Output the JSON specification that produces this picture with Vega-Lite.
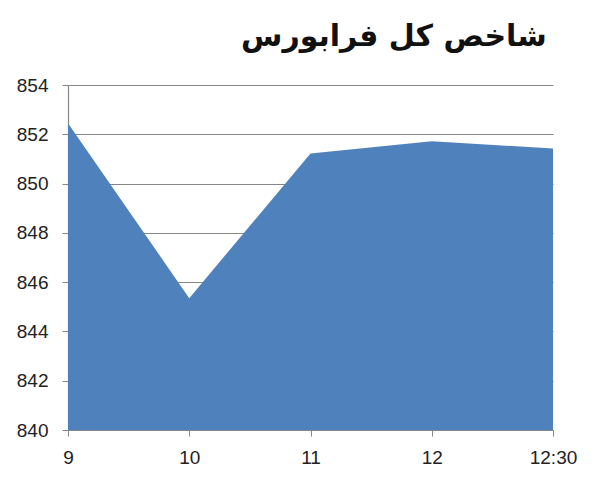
{
  "$schema": "https://vega.github.io/schema/vega-lite/v6.json",
  "width": 485,
  "height": 345,
  "autosize": "none",
  "padding": {"left": 68, "top": 85, "right": 47, "bottom": 50},
  "background": "white",
  "title": {
    "text": "شاخص کل فرابورس",
    "anchor": "end",
    "dx": -30,
    "offset": 24,
    "fontSize": 30,
    "fontWeight": "bold",
    "font": "DejaVu Sans",
    "color": "#111111"
  },
  "data": {
    "values": [
      {"time": "9", "value": 852.45},
      {"time": "10", "value": 845.35},
      {"time": "11", "value": 851.22},
      {"time": "12", "value": 851.72},
      {"time": "12:30", "value": 851.42}
    ]
  },
  "mark": {"type": "area", "color": "#4F81BD", "opacity": 1, "interpolate": "linear"},
  "encoding": {
    "x": {
      "field": "time",
      "type": "ordinal",
      "sort": null,
      "scale": {"type": "point", "padding": 0},
      "axis": {
        "title": null,
        "labelAngle": 0,
        "labelFontSize": 19,
        "labelFont": "Liberation Sans",
        "labelColor": "#222222",
        "labelPadding": 12,
        "domainColor": "#868686",
        "tickColor": "#868686",
        "tickSize": 6,
        "grid": false
      }
    },
    "y": {
      "field": "value",
      "type": "quantitative",
      "scale": {"domain": [840, 854], "zero": false, "nice": false},
      "axis": {
        "title": null,
        "values": [840, 842, 844, 846, 848, 850, 852, 854],
        "labelFontSize": 19,
        "labelFont": "Liberation Sans",
        "labelColor": "#222222",
        "labelPadding": 14,
        "domainColor": "#868686",
        "tickColor": "#868686",
        "tickSize": 6,
        "grid": true,
        "gridColor": "#868686",
        "gridWidth": 1
      }
    },
    "y2": {"datum": 840}
  },
  "config": {"view": {"stroke": null}, "axis": {"domainWidth": 1.2}}
}
